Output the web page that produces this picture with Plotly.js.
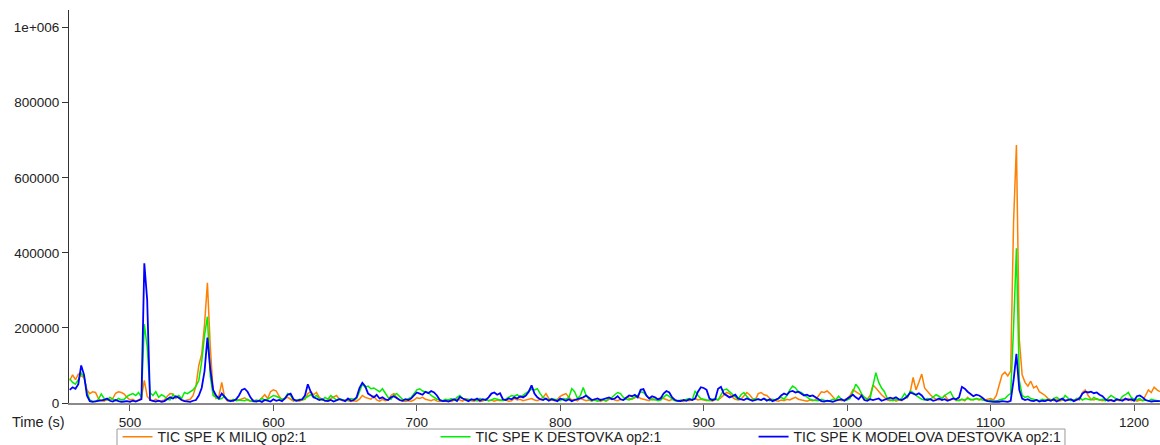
<!DOCTYPE html>
<html>
<head>
<meta charset="utf-8">
<script src="https://cdn.plot.ly/plotly-3.0.1.min.js"></script>
<style>
  html, body { margin: 0; padding: 0; background: #fff; }
  #chart { width: 1160px; height: 445px; }
</style>
</head>
<body>
<div id="chart"></div>
<script>
// Sampling grid of the total ion chromatograms (seconds)
const timeStart = 458;
const timeStep = 2;

// Intensities in thousands of counts, one value per sample
const miliq = [
  60,75,62,77,72,68,35,25,30,28,12,6,5,10,8,12,26,30,28,24,
  15,8,10,5,8,14,60,18,8,5,10,5,6,8,18,25,24,12,18,8,
  6,8,10,20,45,100,130,210,320,150,30,12,18,55,15,5,8,5,10,8,
  10,14,8,5,8,4,6,15,22,12,30,35,32,18,8,12,15,10,5,8,
  5,8,10,25,30,22,28,15,10,5,8,12,18,20,10,6,8,5,4,6,
  5,10,20,15,12,10,18,8,5,10,6,8,20,25,15,8,5,4,6,5,
  8,14,12,15,10,8,6,10,5,4,6,5,8,4,6,10,8,5,12,8,
  6,5,8,4,5,10,6,8,5,8,6,10,8,5,6,12,8,10,6,8,
  10,12,8,6,10,15,25,12,8,6,10,18,22,25,15,8,10,6,12,8,
  6,8,5,10,6,4,8,5,10,12,8,6,10,8,15,12,10,14,18,12,
  10,8,6,12,8,10,15,12,8,6,10,8,5,6,4,8,6,10,12,8,
  10,8,6,8,5,10,8,14,22,28,25,15,10,8,10,18,28,22,12,8,
  25,28,22,20,12,8,6,5,8,6,10,8,12,15,10,8,6,5,8,6,
  8,18,30,28,32,25,15,8,10,6,8,12,20,35,30,25,22,15,10,20,
  48,40,30,22,15,8,6,10,5,8,6,12,15,30,68,35,55,77,40,30,
  22,15,10,8,12,20,10,8,12,6,8,10,6,15,8,10,12,8,14,8,
  10,12,8,20,48,75,82,72,85,480,687,170,75,55,45,58,40,45,30,25,
  20,12,8,6,10,5,8,6,10,8,6,12,8,28,35,20,10,8,12,8,
  6,8,10,6,5,8,6,10,8,12,6,8,5,8,6,20,35,28,42,35,
  30
];

const destovka = [
  65,55,50,62,80,70,30,8,5,4,10,24,12,8,15,10,6,12,8,10,
  18,22,25,20,28,15,210,150,28,20,30,15,22,18,10,8,22,15,20,12,
  28,25,30,35,45,60,110,180,230,70,20,15,10,12,18,8,5,10,6,8,
  8,6,10,5,4,8,6,12,8,10,15,20,18,15,10,12,25,20,8,6,
  10,8,12,18,22,15,20,12,8,15,10,20,14,8,12,10,6,8,12,10,
  12,30,50,42,45,38,40,35,30,38,25,15,10,22,25,18,10,8,12,15,
  25,35,38,32,30,28,20,15,10,8,6,10,8,12,8,15,20,12,8,10,
  8,10,6,12,8,10,6,8,12,10,8,6,10,14,20,18,22,15,20,25,
  30,37,35,38,25,15,10,8,12,10,8,6,12,10,15,38,30,12,20,41,
  20,10,6,8,5,10,8,6,12,15,22,28,25,15,10,8,12,15,20,30,
  28,20,12,8,10,6,8,15,22,18,10,6,5,8,6,10,12,8,32,20,
  12,10,8,6,10,12,8,20,35,37,30,22,15,10,22,28,18,10,8,12,
  10,8,12,8,6,10,8,12,15,10,20,35,45,40,30,28,22,15,10,8,
  8,6,10,8,5,6,10,8,18,10,6,8,12,30,50,40,25,15,10,12,
  50,81,55,40,30,12,8,6,10,8,12,25,15,32,28,20,15,10,8,12,
  10,15,22,18,12,20,25,30,15,8,6,10,8,12,10,8,12,10,8,6,
  5,8,6,4,8,10,12,20,25,200,412,60,20,15,18,12,10,8,6,10,
  8,10,6,12,15,10,8,20,12,6,8,10,15,8,12,10,8,15,10,8,
  10,6,12,20,15,10,8,18,22,28,15,10,8,12,6,8,5,10,8,6,
  5
];

const modelova = [
  35,42,38,50,100,75,20,5,3,4,6,5,8,12,6,4,8,5,3,4,
  5,3,6,4,8,10,372,275,8,5,4,6,3,5,10,15,12,18,14,8,
  5,4,3,6,8,20,40,85,174,90,35,20,12,25,15,8,5,6,10,20,
  35,38,30,15,5,4,6,3,8,5,4,10,6,8,5,12,22,25,10,6,
  8,10,20,50,30,15,12,8,10,6,5,8,4,6,10,8,5,12,6,8,
  15,40,54,45,25,20,15,22,12,15,10,8,15,18,12,8,6,10,8,12,
  20,28,25,22,30,26,32,28,20,8,5,6,4,8,10,5,16,12,8,5,
  10,8,12,6,10,8,15,25,28,22,26,10,8,12,10,15,12,18,15,20,
  30,47,25,15,10,8,12,6,10,8,5,12,8,6,10,5,8,10,12,15,
  20,15,8,10,12,8,10,12,15,10,12,18,10,8,14,20,18,22,15,35,
  37,20,12,18,15,10,12,25,32,28,15,8,6,5,8,6,10,8,12,30,
  42,40,35,12,8,10,38,43,25,20,15,18,22,12,10,8,12,10,6,8,
  10,8,12,6,10,5,8,12,20,25,22,30,32,28,30,25,20,22,18,20,
  15,8,5,4,6,5,3,6,8,10,6,12,18,22,15,10,20,8,6,10,
  8,10,12,6,8,10,14,12,15,10,8,12,18,28,25,22,26,20,10,8,
  10,6,8,12,8,10,6,8,12,10,15,43,38,30,25,18,22,20,15,8,
  5,4,3,4,3,5,4,3,6,60,131,35,12,8,10,6,5,8,4,6,
  5,8,6,10,4,8,12,6,8,10,5,8,12,25,30,28,30,26,28,22,
  18,10,6,8,5,10,8,6,12,8,10,6,18,20,15,8,6,4,5,6,
  5
];

const seriesNames = [
  'TIC SPE K MILIQ op2:1',
  'TIC SPE K DESTOVKA op2:1',
  'TIC SPE K MODELOVA DESTOVKA op2:1'
];
const seriesColors = ['#ff8000', '#00ee00', '#0000ff'];

const xTicks = [500, 600, 700, 800, 900, 1000, 1100, 1200];
const yTicks = [0, 200, 400, 600, 800, 1000];
const yTickText = ['0', '200000', '400000', '600000', '800000', '1e+006'];

const seriesData = [miliq, destovka, modelova];
const traces = seriesData.map((vals, i) => ({
  type: 'scatter',
  mode: 'lines',
  name: seriesNames[i],
  x0: timeStart,
  dx: timeStep,
  y: vals,
  line: { color: seriesColors[i], width: i === 2 ? 1.8 : 1.5 },
  hoverinfo: 'x+y+name'
}));

const FONT = 'Liberation Sans, Arial, sans-serif';

const layout = {
  width: 1160,
  height: 445,
  margin: { l: 69, r: 0, t: 10, b: 42, autoexpand: false },
  paper_bgcolor: '#ffffff',
  plot_bgcolor: '#ffffff',
  font: { family: FONT, size: 13.5, color: '#222222' },
  showlegend: true,
  xaxis: {
    range: [457.5, 1218.1],
    tickvals: xTicks,
    showgrid: false,
    zeroline: false,
    showline: true,
    linecolor: '#8a8a8a',
    linewidth: 2,
    ticks: 'outside',
    ticklen: 6,
    tickwidth: 1,
    tickcolor: '#555555',
    tickfont: { family: FONT, size: 13.5, color: '#222222' }
  },
  yaxis: {
    range: [0, 1047],
    tickvals: yTicks,
    ticktext: yTickText,
    showgrid: false,
    zeroline: false,
    showline: true,
    linecolor: '#333333',
    linewidth: 1,
    ticks: 'outside',
    ticklen: 6,
    tickwidth: 1,
    tickcolor: '#333333',
    tickfont: { family: FONT, size: 13.5, color: '#222222' }
  },
  legend: {
    orientation: 'h',
    x: 0.0445,
    xanchor: 'left',
    y: -0.046,
    yanchor: 'top',
    bgcolor: 'rgba(0,0,0,0)',
    borderwidth: 0,
    entrywidth: 273,
    entrywidthmode: 'pixels',
    font: { family: FONT, size: 14, color: '#222222' },
    traceorder: 'normal'
  },
  // frame around the legend strip
  shapes: [{
    type: 'rect',
    xref: 'paper', yref: 'paper',
    x0: 0.044, x1: 0.9129,
    y0: -0.0662, y1: -0.14,
    line: { color: '#9a9a9a', width: 1 },
    fillcolor: 'rgba(0,0,0,0)',
    layer: 'below'
  }],
  annotations: [{
    text: 'Time (s)',
    xref: 'paper', yref: 'paper',
    x: -0.002, y: -0.048,
    xanchor: 'right', yanchor: 'middle',
    showarrow: false,
    font: { family: FONT, size: 14.5, color: '#222222' }
  }]
};

Plotly.newPlot('chart', traces, layout, { displayModeBar: false, staticPlot: true });
</script>
</body>
</html>
